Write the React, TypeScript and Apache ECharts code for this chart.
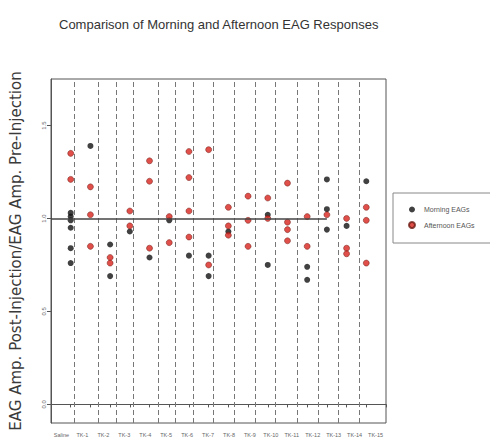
import React, { useEffect, useRef } from "react";
import * as echarts from "echarts";

const categories = [
  "Saline", "TK-1", "TK-2", "TK-3", "TK-4", "TK-5", "TK-6", "TK-7",
  "TK-8", "TK-9", "TK-10", "TK-11", "TK-12", "TK-13", "TK-14", "TK-15",
];

const morning: number[][] = [
  [1.03, 1.01, 0.99, 0.95, 0.84, 0.76],
  [1.39],
  [0.86, 0.69],
  [0.93],
  [0.79],
  [0.99],
  [0.8],
  [0.8, 0.69],
  [0.93],
  [],
  [1.02, 0.75],
  [],
  [0.74, 0.67],
  [1.21, 1.05, 0.94],
  [0.96],
  [1.2],
];

const afternoon: number[][] = [
  [1.35, 1.21],
  [1.17, 1.02, 0.85],
  [0.79, 0.76],
  [1.04, 0.96],
  [1.31, 1.2, 0.84],
  [1.01, 0.87],
  [1.36, 1.22, 1.04, 0.9],
  [1.37, 0.75],
  [1.06, 0.96, 0.91],
  [1.12, 0.99, 0.85],
  [1.11, 1.0],
  [1.19, 0.98, 0.94, 0.88],
  [1.01, 0.85],
  [1.02],
  [1.0, 0.84, 0.81],
  [1.06, 0.99, 0.76],
];

const separators = [1.16, 2.38, 3.29, 4.15, 5.46, 6.3, 7.24, 8.25, 9.31, 10.37, 11.38, 12.5, 13.56, 14.57, 15.63];
const yTicks = [0, 0.5, 1.0, 1.5];
const refLine = { from: 0, to: 14, value: 1.0 };

function toPoints(groups: number[][]) {
  const pts: number[][] = [];
  groups.forEach((vals, i) => vals.forEach((v) => pts.push([i + 1, v])));
  return pts;
}

export default function App() {
  const ref = useRef<HTMLDivElement>(null);
  useEffect(() => {
    if (!ref.current) return;
    const chart = echarts.init(ref.current, null, { renderer: "svg" });
    const axisColor = "#555";
    chart.setOption({
      animation: false,
      backgroundColor: "#fff",
      title: {
        text: "Comparison of Morning and Afternoon EAG Responses",
        left: 54,
        top: 13,
        textStyle: { fontSize: 13, fontWeight: "normal", color: "#333", fontFamily: "Liberation Sans" },
      },
      legend: {
        orient: "vertical",
        left: 393,
        top: 193,
        borderColor: "#888",
        borderWidth: 1,
        padding: [13, 40, 14, 15],
        itemGap: 8,
        itemWidth: 6,
        itemHeight: 6,
        textStyle: { fontSize: 7, color: "#555", padding: [0, 0, 0, 4], fontFamily: "Liberation Sans" },
        data: [
          { name: "Morning EAGs", icon: "circle" },
          { name: "Afternoon EAGs", icon: "circle" },
        ],
      },
      grid: {
        left: 50,
        top: 79,
        right: 104,
        bottom: 24,
        show: true,
        borderColor: axisColor,
        borderWidth: 1,
        backgroundColor: "transparent",
      },
      xAxis: [
        {
          type: "value",
          min: 0,
          max: 17,
          interval: 1,
          axisLine: { show: true, lineStyle: { color: axisColor, width: 1 } },
          axisTick: { show: true, length: 3, lineStyle: { color: axisColor } },
          axisLabel: { show: false },
          splitLine: { show: false },
        },
        {
          type: "category",
          position: "bottom",
          data: categories,
          axisLine: { show: false },
          axisTick: { show: false },
          axisLabel: { interval: 0, fontSize: 5.5, color: "#666", margin: 9, fontFamily: "Liberation Sans" },
          splitLine: { show: false },
        },
      ],
      yAxis: {
        type: "value",
        min: -0.1,
        max: 1.75,
        name: "EAG Amp. Post-Injection/EAG Amp. Pre-Injection",
        nameLocation: "middle",
        nameGap: 28,
        nameTextStyle: { fontSize: 15, color: "#3a3a3a", fontFamily: "DejaVu Sans" },
        axisLine: { show: true, lineStyle: { color: axisColor, width: 1 } },
        axisTick: { show: true, length: 4, customValues: yTicks, lineStyle: { color: axisColor } },
        axisLabel: {
          customValues: yTicks,
          rotate: 90,
          fontSize: 6,
          color: "#666",
          margin: 4,
          formatter: (v: number) => v.toFixed(1),
        },
        splitLine: { show: false },
      },
      series: [
        {
          name: "Morning EAGs",
          type: "scatter",
          xAxisIndex: 0,
          symbol: "circle",
          symbolSize: 6,
          itemStyle: { color: "#111" },
          data: toPoints(morning),
          z: 3,
          markLine: {
            silent: true,
            symbol: "none",
            label: { show: false },
            lineStyle: { color: "#777", type: [5, 3], width: 1 },
            data: [
              ...separators.map((x) => ({ xAxis: x })),
              [
                { coord: [refLine.from, refLine.value], lineStyle: { color: "#444", type: "solid", width: 1.5 } },
                { coord: [refLine.to, refLine.value] },
              ],
            ],
          },
        },
        {
          name: "Afternoon EAGs",
          type: "scatter",
          xAxisIndex: 0,
          symbol: "circle",
          symbolSize: 6,
          itemStyle: { color: "#d8231b", borderColor: "#6a1a12", borderWidth: 0.6 },
          data: toPoints(afternoon),
          z: 4,
        },
      ],
    });
    return () => chart.dispose();
  }, []);
  return <div ref={ref} style={{ position: "absolute", left: 0, top: 0, width: 490, height: 447 }} />;
}
